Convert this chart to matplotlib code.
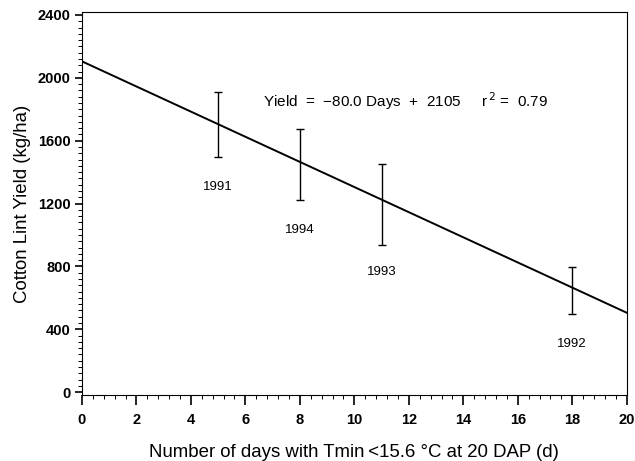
import matplotlib.pyplot as plt
import numpy as np
from matplotlib.ticker import MultipleLocator

plt.rcParams['font.family'] = ['Liberation Sans', 'DejaVu Sans']

# data
days = [5, 8, 11, 18]
yield_mean = [1700, 1465, 1197, 643]
err_low = [1496, 1222, 936, 497]
err_high = [1910, 1674, 1451, 796]
years = ['1991', '1994', '1993', '1992']
label_y = [1305, 1031, 764, 306]

slope = -80.0
intercept = 2105
line_x = [0, 20]

fig = plt.figure(figsize=(6.35, 4.61), dpi=100)
ax = fig.add_axes([0.129, 0.143, 0.858, 0.831])

lx = np.array(line_x)
ax.plot(lx, slope * lx + intercept, color='black', lw=1.4)

yerr = [np.array(yield_mean) - np.array(err_low), np.array(err_high) - np.array(yield_mean)]
ax.errorbar(days, yield_mean, yerr=yerr, fmt='none', ecolor='black', elinewidth=1.0, capsize=3, capthick=1.0)

for d, yr, ly in zip(days, years, label_y):
    ax.text(d, ly, yr, ha='center', va='center', fontsize=9.5)

ax.text(6.64, 1852, 'Yield  =  \u221280.0 Days  +  2105     r$^{\\,2}$ =  0.79',
        ha='left', va='center', fontsize=11)

ax.set_xlim(0, 20)
ax.set_ylim(-19, 2419)
ax.xaxis.set_major_locator(MultipleLocator(2))
ax.xaxis.set_minor_locator(MultipleLocator(0.4))
ax.yaxis.set_major_locator(MultipleLocator(400))
ax.yaxis.set_minor_locator(MultipleLocator(40))
ax.tick_params(axis='x', which='major', length=7, width=1.2, labelsize=10.5, pad=6)
ax.tick_params(axis='y', which='major', length=5, width=1.2, labelsize=10.5, pad=3)
ax.tick_params(which='minor', length=3, width=0.7)
for t in ax.get_xticklabels() + ax.get_yticklabels():
    t.set_fontweight('bold')

ax.set_xlabel('Number of days with Tmin\u2009<15.6 \u00b0C at 20 DAP (d)', fontsize=13.4, labelpad=12)
ax.set_ylabel('Cotton Lint Yield (kg/ha)', fontsize=13.4, labelpad=5)

fig.savefig('out.png', dpi=100)
